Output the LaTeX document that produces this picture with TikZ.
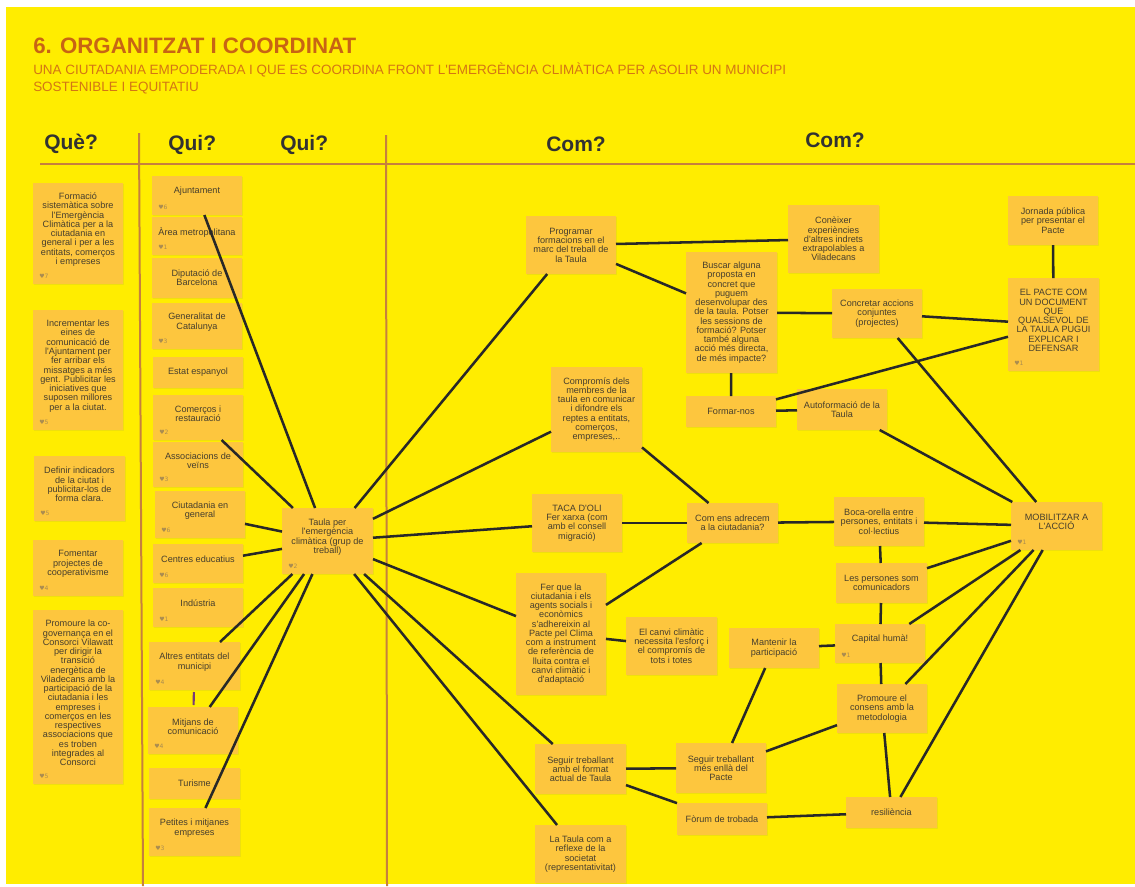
\documentclass[tikz,border=0pt]{standalone}
\usepackage{fontspec}
\newfontfamily\lsans{Liberation Sans}
\newfontfamily\dejavu{DejaVu Sans}
\usetikzlibrary{shadows}
\definecolor{bgyellow}{RGB}{255,237,0}
\definecolor{stick}{RGB}{253,198,62}
\definecolor{stxtc}{RGB}{70,62,45}
\definecolor{titlec}{RGB}{200,100,20}
\definecolor{subc}{RGB}{212,118,20}
\definecolor{headc}{RGB}{50,50,50}
\definecolor{divc}{RGB}{198,128,62}
\definecolor{linkc}{RGB}{40,40,40}
\definecolor{heartc}{RGB}{170,140,80}
\definecolor{purplec}{RGB}{120,60,120}
\tikzset{
 sticky/.style={fill=stick, draw=none, inner sep=0pt, outer sep=0pt,
   drop shadow={opacity=0.12, shadow xshift=0.4pt, shadow yshift=-0.6pt}},
 stxt/.style={font=\lsans\fontsize{6.85}{6.95}\selectfont, text=stxtc, align=center, inner sep=0pt},
 link/.style={draw=linkc, line width=1.9pt},
 hrt/.style={font=\dejavu\fontsize{4.5}{5}\selectfont, text=heartc, inner sep=0pt, anchor=west},
 header/.style={font=\lsans\bfseries\fontsize{15.75}{18}\selectfont, text=headc, inner sep=0pt, anchor=base west},
 divider/.style={draw=divc, line width=1.5pt},
}
\newcommand\stk[6]{%
  \node[sticky, minimum width={(#4-#2)*0.75pt}, minimum height={(#5-#3)*0.75pt}] (#1) at ({(#2+#4)/2},{(#3+#5)/2}) {};
  \node[stxt] (#1-t) at (#1.center) {#6};}
\newcommand\stkh[7]{%
  \node[sticky, minimum width={(#4-#2)*0.75pt}, minimum height={(#5-#3)*0.75pt}] (#1) at ({(#2+#4)/2},{(#3+#5)/2}) {};
  \node[stxt, yshift=3pt] (#1-t) at (#1.center) {#6};
  \node[hrt] (#1-h) at ([xshift=4.5pt,yshift=5.6pt]#1.south west) {♥#7};}
\begin{document}
\begin{tikzpicture}[x=0.75pt,y=-0.75pt]
\useasboundingbox (0,0) rectangle (1135,886);
\fill[white] (0,0) rectangle (1135,886);
\fill[bgyellow] (6,7) rectangle (1135,884);
% title
\node[font=\lsans\bfseries\fontsize{16.7}{19}\selectfont, text=titlec, inner sep=0pt, anchor=base west] (title) at (33,53) {6. ORGANITZAT I COORDINAT};
\node[font=\lsans\fontsize{10.1}{12}\selectfont, text=subc, inner sep=0pt, anchor=base west] (sub1) at (33,74) {UNA CIUTADANIA EMPODERADA I QUE ES COORDINA FRONT L'EMERGÈNCIA CLIMÀTICA PER ASOLIR UN MUNICIPI};
\node[font=\lsans\fontsize{10.1}{12}\selectfont, text=subc, inner sep=0pt, anchor=base west] (sub2) at (33,91) {SOSTENIBLE I EQUITATIU};
% headers
\node[header] (h1) at (44,149) {Què?};
\node[header] (h2) at (168,150) {Qui?};
\node[header] (h3) at (280,150) {Qui?};
\node[header] (h4) at (546,151) {Com?};
\node[header] (h5) at (805,147) {Com?};
% dividers
\coordinate (d1a) at (40,164); \coordinate (d1b) at (1135,164);
\coordinate (d2a) at (139,133); \coordinate (d2b) at (143,886);
\coordinate (d3a) at (386,135); \coordinate (d3b) at (387,886);
\draw[divider] (d1a) -- (d1b);
\draw[divider] (d2a) -- (d2b);
\draw[divider] (d3a) -- (d3b);
% left column
\stkh{f1}{33}{183}{123}{284}{Formació\\sistemàtica sobre\\l'Emergència\\Climàtica per a la\\ciutadania en\\general i per a les\\entitats, comerços\\i empreses}{7}
\stkh{f2}{33}{310}{123}{430}{Incrementar les\\eines de\\comunicació de\\l'Ajuntament per\\fer arribar els\\missatges a més\\gent. Publicitar les\\iniciatives que\\suposen millores\\per a la ciutat.}{5}
\stkh{f3}{34}{456}{125}{521}{Definir indicadors\\de la ciutat i\\publicitar-los de\\forma clara.}{5}
\stkh{f4}{33}{540}{123}{596}{Fomentar\\projectes de\\cooperativisme}{4}
\stkh{f5}{33}{610}{123}{784}{Promoure la co-\\governança en el\\Consorci Vilawatt\\per dirigir la\\transició\\energètica de\\Viladecans amb la\\participació de la\\ciutadania i les\\empreses i\\comerços en les\\respectives\\associacions que\\es troben\\integrades al\\Consorci}{5}
% qui column
\stkh{ajun}{152}{176}{242}{215}{Ajuntament}{6}
\stkh{area}{152}{217}{242}{255}{Àrea metropolitana}{1}
\stk{dipu}{152}{258}{242}{298}{Diputació de\\Barcelona}
\stkh{gene}{152}{303}{242}{349}{Generalitat de\\Catalunya}{3}
\stk{estat}{153}{357}{243}{388}{Estat espanyol}
\stkh{comer}{153}{395}{243}{440}{Comerços i\\restauració}{2}
\stkh{asso}{153}{442}{243}{487}{Associacions de\\veïns}{3}
\stkh{ciut}{155}{491}{245}{538}{Ciutadania en\\general}{6}
\stkh{centres}{153}{544}{243}{583}{Centres educatius}{6}
\stkh{indus}{153}{588}{243}{627}{Indústria}{1}
\stkh{altres}{149}{642}{240}{690}{Altres entitats del\\municipi}{4}
\stkh{mitjans}{148}{707}{238}{754}{Mitjans de\\comunicació}{4}
\stk{turisme}{149}{768}{240}{799}{Turisme}
\stkh{petites}{149}{808}{240}{856}{Petites i mitjanes\\empreses}{3}
\stkh{taula}{282}{508}{373}{574}{Taula per\\l'emergència\\climàtica (grup de\\treball)}{2}
% com
\stk{prog}{526}{216}{616}{274}{Programar\\formacions en el\\marc del treball de\\la Taula}
\stk{conei}{788}{205}{879}{273}{Conèixer\\experiències\\d'altres indrets\\extrapolables a\\Viladecans}
\stk{busc}{686}{252}{777}{373}{Buscar alguna\\proposta en\\concret que\\puguem\\desenvolupar des\\de la taula. Potser\\les sessions de\\formació? Potser\\també alguna\\acció més directa,\\de més impacte?}
\stk{concr}{832}{289}{922}{338}{Concretar accions\\conjuntes\\(projectes)}
\stk{jorn}{1008}{196}{1098}{245}{Jornada pública\\per presentar el\\Pacte}
\stkh{pacte}{1008}{278}{1099}{371}{EL PACTE COM\\UN DOCUMENT\\QUE\\QUALSEVOL DE\\LA TAULA PUGUI\\EXPLICAR I\\DEFENSAR}{1}
\stk{compr}{551}{367}{642}{452}{Compromís dels\\membres de la\\taula en comunicar\\i difondre els\\reptes a entitats,\\comerços,\\empreses,..}
\stk{formar}{686}{396}{776}{427}{Formar-nos}
\stk{autof}{797}{389}{887}{430}{Autoformació de la\\Taula}
\stk{taca}{532}{494}{622}{552}{TACA D'OLI\\Fer xarxa (com\\amb el consell\\migració)}
\stk{comens}{687}{503}{778}{543}{Com ens adrecem\\a la ciutadania?}
\stk{boca}{834}{497}{924}{546}{Boca-orella entre\\persones, entitats i\\col·lectius}
\stkh{mob}{1011}{502}{1102}{550}{MOBILITZAR A\\L'ACCIÓ}{1}
\stk{perso}{836}{563}{927}{603}{Les persones som\\comunicadors}
\stk{ferque}{516}{573}{606}{695}{Fer que la\\ciutadania i els\\agents socials i\\econòmics\\s'adhereixin al\\Pacte pel Clima\\com a instrument\\de referència de\\lluita contra el\\canvi climàtic i\\d'adaptació}
\stk{canvi}{626}{617}{717}{675}{El canvi climàtic\\necessita l'esforç i\\el compromís de\\tots i totes}
\stk{mant}{729}{628}{819}{668}{Mantenir la\\participació}
\stkh{capital}{835}{624}{925}{663}{Capital humà!}{1}
\stk{promo}{837}{684}{927}{733}{Promoure el\\consens amb la\\metodologia}
\stk{segfmt}{535}{744}{626}{794}{Seguir treballant\\amb el format\\actual de Taula}
\stk{segmes}{676}{743}{766}{793}{Seguir treballant\\més enllà del\\Pacte}
\stk{forum}{677}{803}{767}{835}{Fòrum de trobada}
\stk{resil}{846}{797}{937}{828}{resiliència}
\stk{reflex}{535}{825}{626}{883}{La Taula com a\\reflexe de la\\societat\\(representativitat)}
% connectors
\draw[link] (ajun) -- (taula);
\draw[link] (comer) -- (taula);
\draw[link] (ciut) -- (taula);
\draw[link] (centres) -- (taula);
\draw[link] (altres) -- (taula);
\draw[link] (mitjans) -- (taula);
\draw[link] (petites) -- (taula);
\draw[draw=purplec, line width=1.6pt, shorten <=1.5pt, shorten >=1.5pt] (altres) -- (mitjans);
\draw[link] (taula) -- (prog);
\draw[link] (taula) -- (compr);
\draw[link] (taula) -- (taca);
\draw[link] (taula) -- (ferque);
\draw[link] (taula) -- (segfmt);
\draw[link] (taula) -- (reflex);
\draw[link] (prog) -- (conei);
\draw[link] (prog) -- (busc);
\draw[link] (busc) -- (concr);
\draw[link] (busc) -- (formar);
\draw[link] (formar) -- (pacte);
\draw[link] (formar) -- (autof);
\draw[link] (concr) -- (pacte);
\draw[link] (jorn) -- (pacte);
\draw[link] (concr) -- (mob);
\draw[link] (autof) -- (mob);
\draw[link] (compr) -- (comens);
\draw[link] (taca) -- (comens);
\draw[link] (comens) -- (boca);
\draw[link] (comens) -- (ferque);
\draw[link] (boca) -- (mob);
\draw[link] (boca) -- (perso);
\draw[link] (perso) -- (mob);
\draw[link] (perso) -- (capital);
\draw[link] (capital) -- (mob);
\draw[link] (capital) -- (mant);
\draw[link] (capital) -- (promo);
\draw[link] (promo) -- (mob);
\draw[link] (mob) -- (resil);
\draw[link] (promo) -- (resil);
\draw[link] (promo) -- (segmes);
\draw[link] (mant) -- (segmes);
\draw[link] (ferque) -- (canvi);
\draw[link] (segfmt) -- (segmes);
\draw[link] (segfmt) -- (forum);
\draw[link] (forum) -- (resil);
\end{tikzpicture}
\end{document}
